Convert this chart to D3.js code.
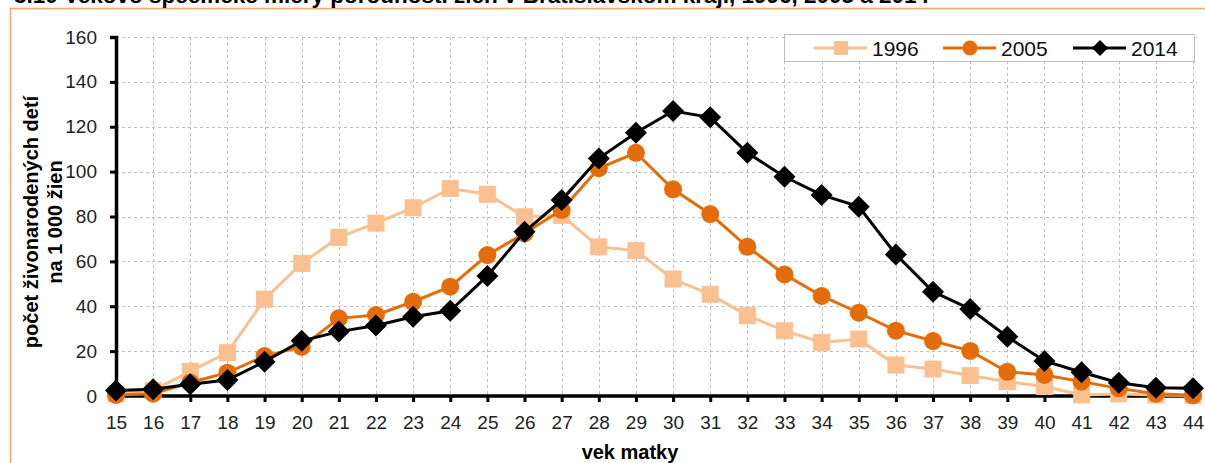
<!DOCTYPE html>
<html>
<head>
<meta charset="utf-8">
<script src="https://cdn.jsdelivr.net/npm/d3@7"></script>
<style>
  body { margin: 0; background: #fff; }
  svg { display: block; }
  .narrow { font-family: "Liberation Sans Narrow", "Arial Narrow", "Liberation Sans", Arial, sans-serif; }
</style>
</head>
<body>
<svg id="chart" width="1205" height="463"></svg>
<script>
// ==================== DATA ====================
const ages = [15, 16, 17, 18, 19, 20, 21, 22, 23, 24, 25, 26, 27, 28, 29,
  30, 31, 32, 33, 34, 35, 36, 37, 38, 39, 40, 41, 42, 43, 44];
const rates1996 = [1, 2.5, 11, 19.3, 43.1, 59.1, 70.7, 77, 83.9, 92.5, 89.9, 79.9, 80.5, 66.5, 64.8,
  52.1, 45.3, 35.8, 29.1, 23.9, 25.4, 13.8, 12, 9.1, 6.4, 4.2, 0.5, 0.9, 0.5, 0.2];
const rates2005 = [0.5, 1, 6, 10.4, 17.8, 21.9, 34.6, 36.1, 42, 48.7, 62.8, 72.5, 82.9, 101.5, 108.4,
  92.1, 81.1, 66.5, 54.2, 44.6, 37.1, 29.1, 24.5, 20.1, 10.8, 9.4, 6.4, 3.4, 1, 0.3];
const rates2014 = [2.4, 3, 5.2, 7.1, 15.3, 24.6, 28.7, 31.4, 35.3, 38, 53.5, 73.2, 87.3, 105.9, 117.3,
  127, 124.2, 108.4, 97.7, 89.6, 84.4, 63.1, 46.5, 38.8, 26.4, 15.6, 10.6, 5.9, 3.7, 3.4];
const yTicks = [0, 20, 40, 60, 80, 100, 120, 140, 160];

const series = [
  { name: '1996', values: rates1996, color: '#FAC090', marker: 'square' },
  { name: '2005', values: rates2005, color: '#E46C0A', marker: 'circle' },
  { name: '2014', values: rates2014, color: '#000000', marker: 'diamond' },
];

// ==================== CHART ====================
const svg = d3.select('#chart');
const plotLeft = 116, plotRight = 1193, plotTop = 37, plotBottom = 396, gridRight = 1197;

const x = d3.scalePoint().domain(ages).range([plotLeft, plotRight]).padding(0);
const y = d3.scaleLinear().domain([0, 160]).range([plotBottom, plotTop]);

// outer frame + title (only its lower half fits on the page, as in the source)
svg.append('path')
  .attr('d', `M10.5,463 V8.5 H1205`)
  .attr('fill', 'none')
  .attr('stroke', '#F9A868')
  .attr('stroke-width', 1.5);

svg.append('text')
  .attr('x', 14)
  .attr('y', 3)
  .attr('font-family', '"Liberation Sans", Arial, sans-serif')
  .attr('font-weight', 'bold')
  .attr('font-size', '22px')
  .attr('textLength', 915)
  .attr('lengthAdjust', 'spacingAndGlyphs')
  .attr('fill', '#000')
  .text('3.10 Vekovo špecifické miery porodnosti žien v Bratislavskom kraji, 1996, 2005 a 2014');

// grid
const grid = svg.append('g').attr('stroke', '#BFBFBF').attr('stroke-width', 1).attr('stroke-dasharray', '3,3');
grid.selectAll('line.h')
  .data(yTicks.filter((d) => d > 0))
  .join('line')
  .attr('class', 'h')
  .attr('x1', plotLeft).attr('x2', gridRight)
  .attr('y1', (d) => Math.round(y(d)) + 0.5)
  .attr('y2', (d) => Math.round(y(d)) + 0.5);
grid.selectAll('line.v')
  .data(ages.slice(1))
  .join('line')
  .attr('class', 'v')
  .attr('x1', (d) => Math.round(x(d)) + 0.5)
  .attr('x2', (d) => Math.round(x(d)) + 0.5)
  .attr('y1', plotTop).attr('y2', plotBottom);

// axes
const yAxis = svg.append('g')
  .attr('transform', `translate(${plotLeft},0)`)
  .call(d3.axisLeft(y).tickValues(yTicks).tickSize(6).tickPadding(13));
yAxis.attr('font-family', null).attr('font-size', null).attr('class', 'narrow');
yAxis.select('.domain').attr('stroke-width', 3.5);
yAxis.selectAll('.tick line').attr('stroke-width', 3);
yAxis.selectAll('.tick text').attr('font-size', '19px').attr('fill', '#222');

const xAxis = svg.append('g')
  .attr('transform', `translate(0,${plotBottom})`)
  .call(d3.axisBottom(x).tickSize(6).tickPadding(14).tickSizeOuter(0));
xAxis.attr('font-family', null).attr('font-size', null).attr('class', 'narrow');
xAxis.select('.domain').attr('stroke-width', 3.5).attr('d', `M${plotLeft},0H${gridRight}`);
xAxis.selectAll('.tick line').attr('stroke-width', 3);
xAxis.selectAll('.tick text').attr('font-size', '19px').attr('fill', '#222');

// axis titles
svg.append('text')
  .attr('class', 'narrow')
  .attr('transform', 'translate(38,222) rotate(-90)')
  .attr('text-anchor', 'middle')
  .attr('font-weight', 'bold')
  .attr('font-size', '20px')
  .attr('fill', '#000')
  .text('počet živonarodených detí');
svg.append('text')
  .attr('class', 'narrow')
  .attr('transform', 'translate(62,222) rotate(-90)')
  .attr('text-anchor', 'middle')
  .attr('font-weight', 'bold')
  .attr('font-size', '20px')
  .attr('fill', '#000')
  .text('na 1 000 žien');
svg.append('text')
  .attr('class', 'narrow')
  .attr('x', 630)
  .attr('y', 459)
  .attr('text-anchor', 'middle')
  .attr('font-weight', 'bold')
  .attr('font-size', '20px')
  .attr('fill', '#000')
  .text('vek matky');

// markers
function drawMarker(sel, type, color) {
  if (type === 'square') {
    sel.append('rect').attr('x', -8.5).attr('y', -8.5).attr('width', 17).attr('height', 17).attr('fill', color);
  } else if (type === 'circle') {
    sel.append('circle').attr('r', 9).attr('fill', color);
  } else {
    sel.append('path').attr('d', 'M0,-11L11,0L0,11L-11,0Z').attr('fill', color);
  }
}

const line = d3.line().x((d, i) => x(ages[i])).y((d) => y(d));

series.forEach((s) => {
  const g = svg.append('g');
  g.append('path')
    .datum(s.values)
    .attr('d', line)
    .attr('fill', 'none')
    .attr('stroke', s.color)
    .attr('stroke-width', 3);
  s.values.forEach((v, i) => {
    const m = g.append('g').attr('transform', `translate(${x(ages[i])},${y(v)})`);
    drawMarker(m, s.marker, s.color);
  });
});

// legend
const legend = svg.append('g');
legend.append('rect')
  .attr('x', 784.5).attr('y', 34.5).attr('width', 410).attr('height', 27)
  .attr('fill', '#fff').attr('stroke', '#BFBFBF').attr('stroke-width', 1);
const legendX = [814, 943, 1073];
series.forEach((s, i) => {
  const lg = legend.append('g').attr('transform', `translate(${legendX[i]},48)`);
  lg.append('line').attr('x1', 0).attr('x2', 53).attr('stroke', s.color).attr('stroke-width', 3);
  const m = lg.append('g').attr('transform', 'translate(27,0)');
  if (s.marker === 'square') {
    m.append('rect').attr('x', -7).attr('y', -7).attr('width', 14).attr('height', 14).attr('fill', s.color);
  } else if (s.marker === 'circle') {
    m.append('circle').attr('r', 7.5).attr('fill', s.color);
  } else {
    m.append('path').attr('d', 'M0,-8L8,0L0,8L-8,0Z').attr('fill', s.color);
  }
  lg.append('text')
    .attr('class', 'narrow')
    .attr('x', 58)
    .attr('y', 7.5)
    .attr('font-size', '21px')
    .attr('fill', '#111')
    .text(s.name);
});
</script>
</body>
</html>
